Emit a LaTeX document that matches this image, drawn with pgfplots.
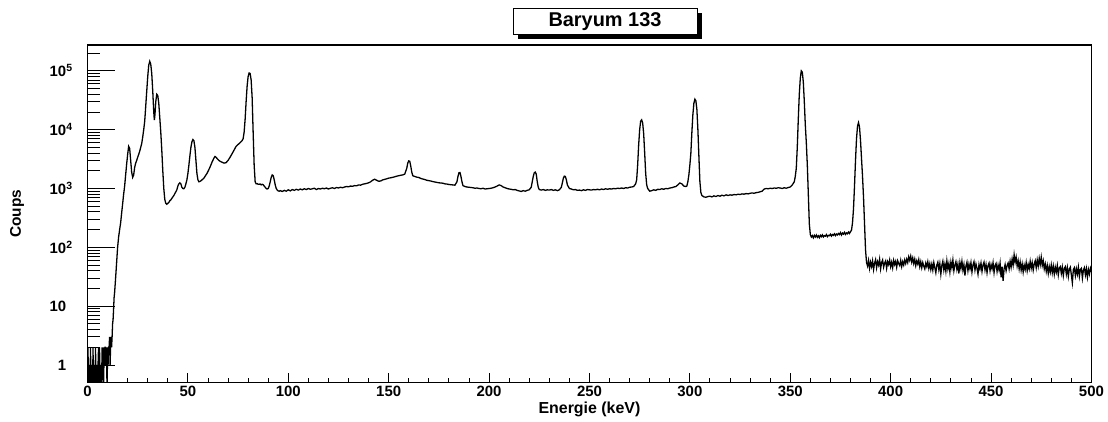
\documentclass[border=0pt]{standalone}
\usepackage{pgfplots}
\pgfplotsset{compat=1.18}
\usepackage{fontspec}
\setmainfont{Liberation Sans}

\begin{document}
\begin{tikzpicture}
% y axis ticks (longer ticks than x axis, as in ROOT)
\begin{axis}[at={(0,0)}, anchor=south west,
    scale only axis, width=1004bp, height=337.7bp,
    xmin=0, xmax=500, ymode=log, ymin=0.5, ymax=2.75e5,
    axis line style={line width=1.6pt},
    tick align=inside, tick style={black, line width=0.9pt},
    xtick=\empty,
    ytick pos=left,
    major tick length=28bp, minor tick length=13bp,
    ytick={1,10,100,1000,10000,100000},
    minor ytick={0.6,0.7,0.8,0.9,2,3,4,5,6,7,8,9,20,30,40,50,60,70,80,90,
      200,300,400,500,600,700,800,900,2000,3000,4000,5000,6000,7000,8000,9000,
      20000,30000,40000,50000,60000,70000,80000,90000,200000},
    yticklabels={1,10,10\rlap{\textsuperscript{2}},10\rlap{\textsuperscript{3}},10\rlap{\textsuperscript{4}},10\rlap{\textsuperscript{5}}},
    yticklabel style={font=\fontsize{15}{15}\selectfont\bfseries, anchor=east, inner sep=0pt, xshift=-21bp},
    ylabel={Coups},
    ylabel style={font=\fontsize{15.5}{15.5}\selectfont\bfseries, at={(axis description cs:-0.0702,0.5)}, anchor=center},
]
\end{axis}
\begin{axis}[at={(0,0)}, anchor=south west,
    scale only axis, width=1004bp, height=337.7bp,
    xmin=0, xmax=500, ymode=log, ymin=0.5, ymax=2.75e5,
    axis line style={line width=1.6pt},
    tick align=inside, tick style={black, line width=0.9pt},
    xtick pos=left,
    major tick length=10bp, minor tick length=5bp,
    xtick={0,50,100,150,200,250,300,350,400,450,500},
    xticklabels={0,50,100,150,200,250,300,350,400,450,500},
    minor xtick={10,20,...,490},
    ytick=\empty,
    xticklabel style={font=\fontsize{15}{15}\selectfont\bfseries},
    xlabel={Energie (keV)},
    xlabel style={font=\fontsize{16}{16}\selectfont\bfseries, at={(axis description cs:0.5,0)}, anchor=center, yshift=-27bp},
]
\addplot[black, line width=1.3pt] coordinates {
(0,0.3)(0.25,2)(0.5,0.3)(0.75,1)(1,0.3)(1.25,0.3)(1.5,2)(1.75,0.3)(2,1)(2.25,0.3)(2.5,0.3)(2.75,2)
(3,0.3)(3.25,1)(3.5,0.3)(3.75,0.3)(4,2)(4.25,0.3)(4.5,1)(4.75,0.3)(5,0.3)(5.25,1)(5.5,2)(5.75,0.3)
(6,2)(6.25,0.3)(6.5,1)(6.75,0.3)(7,0.3)(7.25,2)(7.5,1)(7.75,2)(8,0.3)(8.25,2)(8.5,1)(8.75,2)
(9,2)(9.25,1)(9.5,2)(9.75,0.3)(10,2)(10.25,1)(10.5,2)(10.75,2)(11,3)(11.25,1)(11.5,2)(11.75,3)
(12,2)(12.25,3)(12.5,5)(12.75,6)(13,9)(13.25,14)(13.5,17)(14,30)(14.5,55)(15,100)(15.5,150)
(16,200)(16.5,260)(17,380)(17.5,550)(18,800)(18.5,1100)(19,1700)(19.5,2600)(20,3800)(20.5,5200)
(21,4800)(21.5,3000)(22,1900)(22.5,1550)(23,1700)(23.5,2300)(24,2700)(24.5,3000)(25,3400)
(25.5,3800)(26,4300)(26.5,5000)(27,5800)(27.5,7500)(28,10000)(28.5,14000)(29,25000)(29.5,45000)
(30,80000)(30.5,125000)(31,145000)(31.5,130000)(32,90000)(32.5,45000)(33,20000)(33.3,14500)
(33.6,18000)(34,30000)(34.5,40000)(35,38000)(35.5,28000)(36,16000)(36.5,9000)(37,4500)(37.5,2000)
(38,1000)(38.5,650)(39,560)(39.5,540)(40,560)(40.5,580)(41,620)(41.5,640)(42,680)(42.5,720)
(43,760)(43.5,820)(44,880)(44.5,950)(45,1100)(45.5,1200)(46,1250)(46.5,1200)(47,1050)(47.5,1000)
(48,990)(48.5,1050)(49,1200)(49.5,1400)(50,1800)(50.5,2500)(51,3600)(51.5,5000)(52,6200)
(52.5,6800)(53,6500)(53.5,5000)(54,3000)(54.5,1800)(55,1400)(55.5,1300)(56,1320)(56.5,1350)
(57,1400)(57.5,1450)(58,1500)(58.5,1600)(59,1700)(59.5,1800)(60,1950)(61,2300)(62,2800)(63,3300)
(63.5,3500)(64,3400)(65,3100)(66,2900)(67,2800)(68,2700)(69,2750)(70,3000)(71,3400)(72,3900)
(73,4500)(74,5200)(75,5600)(76,6000)(77,6500)(77.5,7000)(78,9000)(78.5,15000)(79,30000)
(79.5,55000)(80,80000)(80.5,92000)(81,90000)(81.5,70000)(82,35000)(82.5,9000)(83,2500)
(83.5,1300)(84,1200)(84.5,1210)(85,1180)(86,1190)(86.5,1150)(87,1180)(87.5,1160)(88,1100)
(88.5,1050)(89,1000)(89.5,980)(90,1000)(90.5,1100)(91,1300)(91.5,1550)(92,1700)(92.5,1650)
(93,1400)(93.5,1150)(94,1000)(94.5,940)(95,910)(95.5,900)(96,920)(97,890)(98,930)(99,900)
(100,950)(101,910)(102,960)(103,930)(104,970)(105,940)(106,980)(107,950)(108,990)(109,960)
(110,1000)(111,970)(112,990)(113,1010)(114,960)(115,1000)(116,980)(117,1010)(118,990)(119,1020)
(120,980)(121,1010)(122,1030)(123,1000)(124,1040)(125,1020)(126,1050)(127,1030)(128,1060)
(129,1080)(130,1070)(131,1100)(132,1090)(133,1120)(134,1110)(135,1150)(136,1140)(137,1180)
(138,1200)(139,1220)(140,1250)(141,1300)(142,1380)(143,1440)(144,1380)(145,1330)(146,1340)
(147,1400)(148,1430)(149,1460)(150,1500)(151,1520)(152,1550)(153,1580)(154,1620)(155,1650)
(156,1680)(157,1700)(158,1760)(159,2200)(159.5,2700)(160,2950)(160.5,2900)(161,2400)(161.5,1900)
(162,1650)(163,1600)(164,1560)(165,1540)(166,1480)(167,1450)(168,1420)(169,1380)(170,1360)
(171,1340)(172,1310)(173,1290)(174,1270)(175,1250)(176,1240)(177,1230)(178,1200)(179,1190)
(180,1170)(181,1160)(182,1150)(183,1140)(184,1300)(184.5,1600)(185,1850)(185.5,1870)(186,1600)
(186.5,1300)(187,1120)(188,1080)(189,1060)(190,1050)(191,1040)(192,1030)(193,1010)(194,1020)
(195,1000)(196,990)(197,1010)(198,980)(199,990)(200,1000)(201,1010)(202,1030)(203,1060)
(204,1100)(205,1150)(206,1120)(207,1060)(208,1030)(209,1000)(210,980)(211,970)(212,950)
(213,960)(214,930)(215,910)(216,890)(217,920)(218,900)(219,930)(220,950)(221,1050)(221.5,1300)
(222,1600)(222.5,1850)(223,1900)(223.5,1750)(224,1300)(224.5,1050)(225,960)(226,940)(227,960)
(228,930)(229,950)(230,940)(231,960)(232,930)(233,950)(234,920)(235,950)(236,1050)(236.5,1250)
(237,1500)(237.5,1620)(238,1600)(238.5,1400)(239,1150)(240,1000)(241,980)(242,950)(243,960)
(244,930)(245,940)(246,920)(247,950)(248,930)(249,960)(250,950)(251,940)(252,960)(253,950)
(254,970)(255,950)(256,980)(257,960)(258,990)(259,970)(260,990)(261,980)(262,1000)(263,990)
(264,1010)(265,1000)(266,1020)(267,1000)(268,1030)(269,1020)(270,1050)(271,1060)(272,1080)
(273,1200)(273.5,1400)(274,2500)(274.5,5500)(275,10000)(275.5,14000)(276,14700)(276.5,13000)
(277,8500)(277.5,4000)(278,1800)(278.5,1150)(279,1000)(280,900)(281,920)(282,950)(283,930)
(284,970)(285,960)(286,990)(287,970)(288,1000)(289,990)(290,1020)(291,1030)(292,1060)(293,1080)
(294,1150)(295,1240)(296,1200)(297,1100)(298,1080)(298.5,1100)(299,1300)(299.5,1700)(300,2500)
(300.5,4000)(301,9000)(301.5,18000)(302,28000)(302.5,33000)(303,31000)(303.5,22000)(304,10000)
(304.5,3500)(305,1300)(305.5,850)(306,760)(307,720)(308,710)(309,730)(310,740)(311,720)(312,750)
(313,730)(314,760)(315,740)(316,770)(317,750)(318,780)(319,760)(320,780)(321,770)(322,790)
(323,780)(324,800)(325,790)(326,810)(327,800)(328,820)(329,810)(330,830)(331,840)(332,830)
(333,850)(334,860)(335,880)(336,900)(337,980)(338,1000)(339,990)(340,1010)(341,1000)(342,1020)
(343,1010)(344,1030)(345,1020)(346,1000)(347,1030)(348,1010)(349,1040)(350,1060)(351,1150)
(352,1300)(352.5,1600)(353,2200)(353.5,5000)(354,15000)(354.5,40000)(355,75000)(355.5,100000)
(356,95000)(356.5,65000)(357,30000)(357.5,12000)(358,6000)(358.5,2500)(359,800)(359.5,250)
(360,165)(360.5,150)(361,158)(361.5,145)(362,160)(362.5,150)(363,162)(363.5,148)(364,157)
(364.5,146)(365,160)(365.5,152)(366,163)(366.5,150)(367,158)(367.5,155)(368,165)(368.5,152)
(369,160)(369.5,158)(370,167)(370.5,155)(371,165)(371.5,160)(372,170)(372.5,158)(373,168)
(373.5,162)(374,172)(374.5,165)(375,178)(375.5,162)(376,175)(376.5,168)(377,180)(377.5,166)
(378,176)(378.5,170)(379,182)(379.5,172)(380,185)(380.5,195)(381,260)(381.5,450)(382,1100)
(382.5,3000)(383,7000)(383.5,11500)(384,13200)(384.5,11000)(385,6500)(385.5,3200)(386,1600)
(386.5,700)(387,250)(387.5,90)(388,55)(388.5,48)(389,60)(389.5,44)(390,56)(390.5,47)(391,59)
(391.5,42)(392,54)(392.5,62)(393,45)(393.5,57)(394,50)(394.5,63)(395,43)(395.5,55)(396,61)
(396.5,46)(397,54)(397.5,59)(398,44)(398.5,57)(399,51)(399.5,61)(400,47)(400.5,56)(401,45)
(401.5,60)(402,51)(402.5,58)(403,46)(403.5,59)(404,53)(404.5,49)(405,60)(405.5,47)(406,57)
(406.5,50)(407,61)(407.5,53)(408,63)(408.5,55)(409,69)(409.5,60)(410,71)(410.5,56)(411,66)
(411.5,53)(412,63)(412.5,49)(413,59)(413.5,52)(414,62)(414.5,47)(415,57)(415.5,45)(416,55)
(416.5,48)(417,43)(417.5,54)(418,47)(418.5,57)(419,44)(419.5,53)(420,42)(420.5,52)(421,41)
(421.5,55)(422,45)(422.5,37)(423,50)(423.5,56)(424,42)(424.5,53)(425,35)(425.5,49)(426,58)
(426.5,41)(427,52)(427.5,39)(428,59)(428.5,43)(429,53)(429.5,38)(430,56)(430.5,45)(431,61)
(431.5,40)(432,50)(432.5,57)(433,42)(433.5,52)(434,36)(434.5,55)(435,44)(435.5,58)(436,41)
(436.5,51)(437,33)(437.5,48)(438,56)(438.5,40)(439,52)(439.5,43)(440,55)(440.5,38)(441,50)
(441.5,57)(442,41)(442.5,52)(443,44)(443.5,35)(444,51)(444.5,43)(445,54)(445.5,39)(446,50)
(446.5,56)(447,41)(447.5,51)(448,37)(448.5,49)(449,54)(449.5,40)(450,51)(450.5,43)(451,55)
(451.5,37)(452,49)(452.5,53)(453,39)(453.5,50)(454,41)(454.5,54)(455,31)(455.5,47)(456,27)
(456.5,43)(457,51)(457.5,40)(458,49)(458.5,54)(459,43)(459.5,58)(460,46)(460.5,63)(461,50)
(461.5,75)(462,56)(462.5,68)(463,48)(463.5,59)(464,43)(464.5,56)(465,41)(465.5,52)(466,38)
(466.5,50)(467,42)(467.5,55)(468,40)(468.5,51)(469,43)(469.5,58)(470,44)(470.5,55)(471,41)
(471.5,52)(472,59)(472.5,45)(473,61)(473.5,48)(474,65)(474.5,51)(475,68)(475.5,49)(476,59)
(476.5,43)(477,52)(477.5,39)(478,49)(478.5,36)(479,47)(479.5,38)(480,50)(480.5,37)(481,48)
(481.5,35)(482,46)(482.5,38)(483,49)(483.5,34)(484,45)(484.5,47)(485,36)(485.5,46)(486,33)
(486.5,44)(487,47)(487.5,35)(488,45)(488.5,32)(489,43)(489.5,46)(490,34)(490.5,25)(491,42)
(491.5,45)(492,33)(492.5,43)(493,35)(493.5,46)(494,32)(494.5,42)(495,44)(495.5,30)(496,41)
(496.5,45)(497,34)(497.5,43)(498,31)(498.5,42)(499,35)(499.5,44)(500,38)
};
\end{axis}
% title box with ROOT-style shadow
\fill[black] (430bp,343.9bp) rectangle (614bp,369.9bp);
\node[draw=black, line width=0.8pt, fill=white, minimum width=184bp, minimum height=26bp,
      inner sep=0pt, font=\fontsize{20}{20}\selectfont\bfseries] at (517.5bp,361.4bp) {Baryum 133};
\pgfresetboundingbox
\path[use as bounding box] (-87.5bp,-39.3bp) rectangle (1020.5bp,382.7bp);
\end{tikzpicture}
\end{document}
